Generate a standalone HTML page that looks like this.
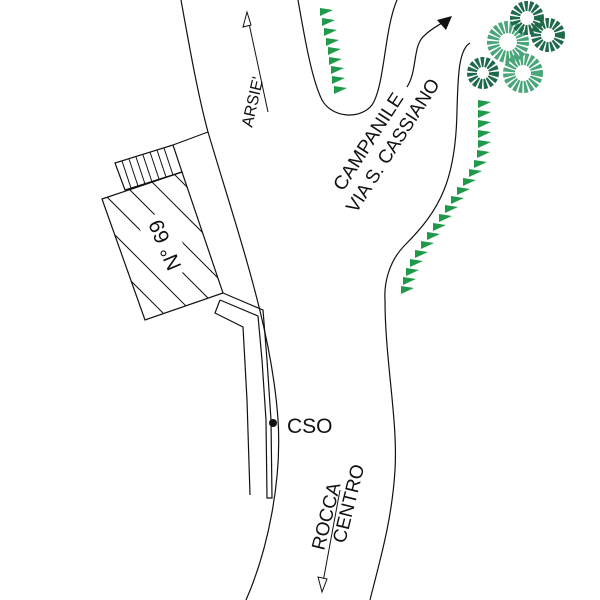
<!DOCTYPE html>
<html><head><meta charset="utf-8"><style>html,body{margin:0;padding:0;background:#fff}svg{display:block}</style></head>
<body>
<svg width="600" height="600" viewBox="0 0 600 600" xmlns="http://www.w3.org/2000/svg" font-family="Liberation Sans, sans-serif">
<defs>
<g id="tri"><polygon points="0,0 13,2 0,8" fill="#1f9a4a"/></g>
</defs>
<g fill="none" stroke="#111" stroke-width="1.2">
<path d="M181,0 C190,50 198,95 208,132 C240,240 272,330 278,420 C282,480 268,550 246,600"/>
<path d="M470,43 C458,50 458,80 457,110 C456,180 440,210 405,245 C388,262 384,285 385,300 C385,360 398,420 395,470 C392,520 380,560 370,600"/>
<path d="M298,0 C305,40 312,80 322,100 C332,118 360,120 372,105 C385,85 384,30 397,0"/>
<polygon points="102,199 182,172 223,293 145,320"/>
<polygon points="115,163 173,145 182,172 125,190"/>
<line x1="173" y1="145" x2="208" y2="132"/>
<g stroke-width="1">
<line x1="122" y1="161" x2="131" y2="188"/><line x1="129" y1="159" x2="138" y2="186"/><line x1="136" y1="157" x2="145" y2="184"/><line x1="143" y1="155" x2="152" y2="182"/><line x1="150" y1="152" x2="159" y2="179"/><line x1="157" y1="150" x2="166" y2="177"/><line x1="164" y1="148" x2="173" y2="175"/>
</g>
<g stroke-width="1">
<clipPath id="bc"><polygon points="102,199 182,172 223,293 145,320"/></clipPath>
<g clip-path="url(#bc)">
<line x1="60" y1="150" x2="260" y2="350"/><line x1="60" y1="180" x2="260" y2="380"/><line x1="60" y1="120" x2="260" y2="320"/><line x1="60" y1="90" x2="260" y2="290"/><line x1="60" y1="60" x2="260" y2="260"/><line x1="60" y1="210" x2="260" y2="410"/><line x1="60" y1="240" x2="260" y2="440"/><line x1="60" y1="270" x2="260" y2="470"/><line x1="60" y1="30" x2="260" y2="230"/>
</g>
</g>
<polyline points="223,293 263,310 267,360 271,420 272,498 267,498 266,420 262,360 258,316 220,300"/>
<polyline points="220,300 215,313 243,327 247,400 250,495"/>
</g>
<rect x="133" y="228" width="64" height="34" fill="#fff" transform="rotate(-113 165 245)"/>
<text x="165" y="252" font-size="21" text-anchor="middle" fill="#111" transform="rotate(-113 165 245)">N° 69</text>
<circle cx="273" cy="423" r="4" fill="#111"/>
<text x="287" y="433" font-size="21" fill="#111">CSO</text>
<line x1="247" y1="14" x2="268" y2="112" stroke="#111" stroke-width="1"/>
<polygon points="247,12 243,27 251,25" fill="#fff" stroke="#111" stroke-width="1"/>
<text font-size="16" fill="#111" transform="translate(252,128) rotate(-77)">ARSIE'</text>
<path d="M407,87 C418,70 412,45 425,35 C432,28 440,25 446,20" fill="none" stroke="#111" stroke-width="1.2"/>
<polygon points="452,16 437,20 446,30" fill="#111"/>
<text font-size="19" fill="#111" textLength="112" lengthAdjust="spacingAndGlyphs" transform="translate(343,192) rotate(-57)">CAMPANILE</text>
<text font-size="19" fill="#111" textLength="155" lengthAdjust="spacingAndGlyphs" transform="translate(356,214) rotate(-57)">VIA S. CASSIANO</text>
<line x1="340" y1="490" x2="323" y2="582" stroke="#111" stroke-width="1"/>
<polygon points="322,592 318,577 327,579" fill="#fff" stroke="#111" stroke-width="1"/>
<text font-size="19" fill="#111" transform="translate(324,551) rotate(-76)">ROCCA</text>
<text font-size="19" fill="#111" transform="translate(345,544) rotate(-76)">CENTRO</text>
<g fill="none" stroke-dasharray="3 1.5">
<circle cx="508" cy="42" r="15" stroke="#4aa67a" stroke-width="12"/>
<circle cx="523" cy="73" r="14" stroke="#4aa67a" stroke-width="12"/>
<circle cx="527" cy="18" r="12" stroke="#1e6a4a" stroke-width="10"/>
<circle cx="548" cy="35" r="12" stroke="#1e6a4a" stroke-width="10"/>
<circle cx="483" cy="73" r="11" stroke="#1e6a4a" stroke-width="10"/>
</g>
<use href="#tri" x="320" y="8"/><use href="#tri" x="322" y="18"/><use href="#tri" x="324" y="28"/><use href="#tri" x="326" y="38"/><use href="#tri" x="328" y="47"/><use href="#tri" x="329" y="57"/><use href="#tri" x="331" y="66"/><use href="#tri" x="332" y="76"/><use href="#tri" x="334" y="86"/>
<use href="#tri" x="478" y="100"/><use href="#tri" x="478" y="110"/><use href="#tri" x="478" y="120"/><use href="#tri" x="478" y="130"/><use href="#tri" x="478" y="140"/><use href="#tri" x="477" y="150"/><use href="#tri" x="474" y="160"/><use href="#tri" x="469" y="169"/><use href="#tri" x="463" y="178"/><use href="#tri" x="457" y="187"/><use href="#tri" x="451" y="196"/><use href="#tri" x="445" y="205"/><use href="#tri" x="439" y="214"/><use href="#tri" x="433" y="223"/><use href="#tri" x="427" y="232"/><use href="#tri" x="421" y="241"/><use href="#tri" x="415" y="250"/><use href="#tri" x="410" y="259"/><use href="#tri" x="406" y="268"/><use href="#tri" x="403" y="277"/><use href="#tri" x="401" y="286"/>
</svg>
</body></html>
